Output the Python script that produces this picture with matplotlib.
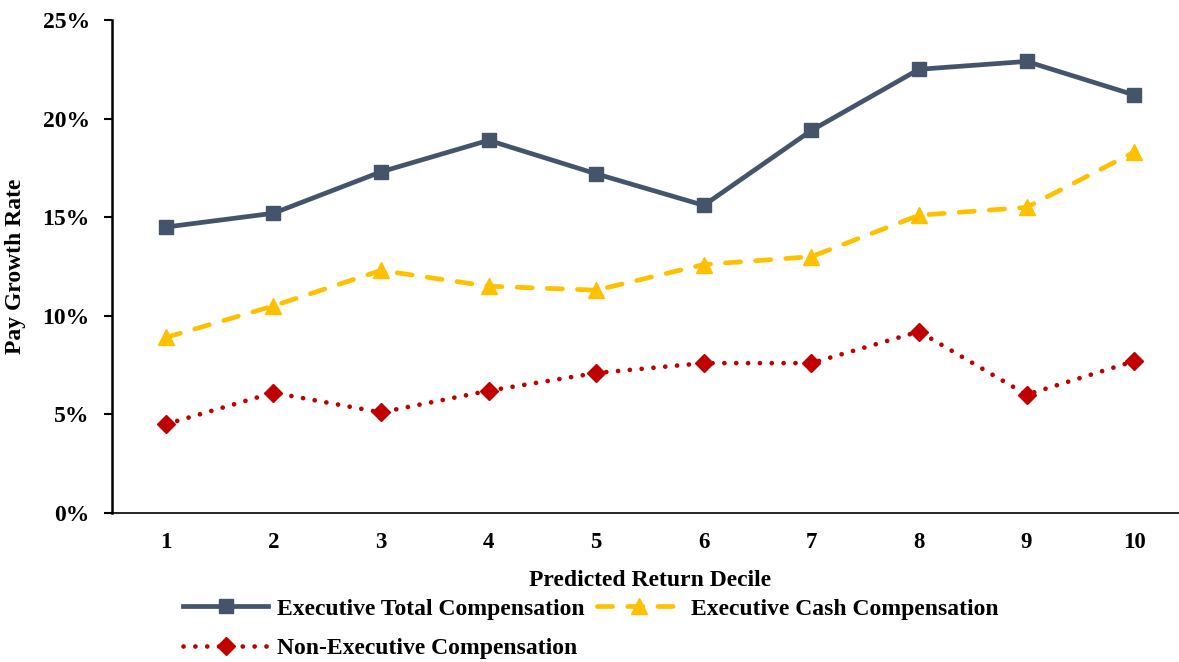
import matplotlib.pyplot as plt
from matplotlib.ticker import PercentFormatter

plt.rcParams['font.family'] = ['Liberation Serif', 'DejaVu Serif']
plt.rcParams['font.weight'] = 'bold'

deciles = ['1', '2', '3', '4', '5', '6', '7', '8', '9', '10']
exec_total = [14.5, 15.2, 17.3, 18.9, 17.2, 15.6, 19.4, 22.5, 22.9, 21.2]
exec_cash = [8.9, 10.5, 12.3, 11.5, 11.3, 12.6, 13.0, 15.1, 15.5, 18.3]
non_exec = [4.5, 6.1, 5.1, 6.2, 7.1, 7.6, 7.6, 9.2, 6.0, 7.7]

fig = plt.figure(figsize=(11.79, 6.62), dpi=100)
# category axis runs slightly past the right edge of the canvas
ax = fig.add_axes([112 / 1179, 1 - 513 / 662, 1076 / 1179, 493 / 662])

x = range(len(deciles))
l_total, = ax.plot(x, exec_total, color='#44546A', lw=3.4, marker='s', ms=10,
                   label='Executive Total Compensation', clip_on=False)
l_cash, = ax.plot(x, exec_cash, color='#FFC000', lw=3.4, marker='^', ms=12,
                  dashes=(3.2, 3.2), dash_capstyle='round',
                  label='Executive Cash Compensation', clip_on=False)
l_non, = ax.plot(x, non_exec, color='#C00000', lw=3.4, marker='D', ms=9,
                 dashes=(0.01, 2.5), dash_capstyle='round',
                 label='Non-Executive Compensation', clip_on=False)

ax.set_xlim(-0.5, 9.5)
ax.set_ylim(0, 25)
ax.set_yticks([0, 5, 10, 15, 20, 25])
ax.yaxis.set_major_formatter(PercentFormatter(decimals=0))
ax.set_xticks(list(x))
ax.set_xticklabels(deciles)

for s in ['top', 'right']:
    ax.spines[s].set_visible(False)
ax.spines['left'].set_linewidth(1.8)
ax.spines['bottom'].set_linewidth(1.2)
ax.tick_params(axis='y', length=6, width=1.5, labelsize=17, pad=10)
ax.tick_params(axis='x', length=0, labelsize=16.5, pad=14)

ax.set_xlabel('Predicted Return Decile', fontsize=17, fontweight='bold',
              labelpad=12)
ax.set_ylabel('Pay Growth Rate', fontsize=17, fontweight='bold', labelpad=12)

# column-major fill: total/non in first column, cash in second
fig.legend(handles=[l_total, l_non, l_cash],
           loc='upper left', bbox_to_anchor=(183 / 1179, 1 - 598 / 662),
           ncol=2, frameon=False, fontsize=17, handlelength=3.6,
           handletextpad=0.4, columnspacing=0.5, labelspacing=0.75,
           borderaxespad=0, borderpad=0)

fig.savefig('out.png', dpi=100)
